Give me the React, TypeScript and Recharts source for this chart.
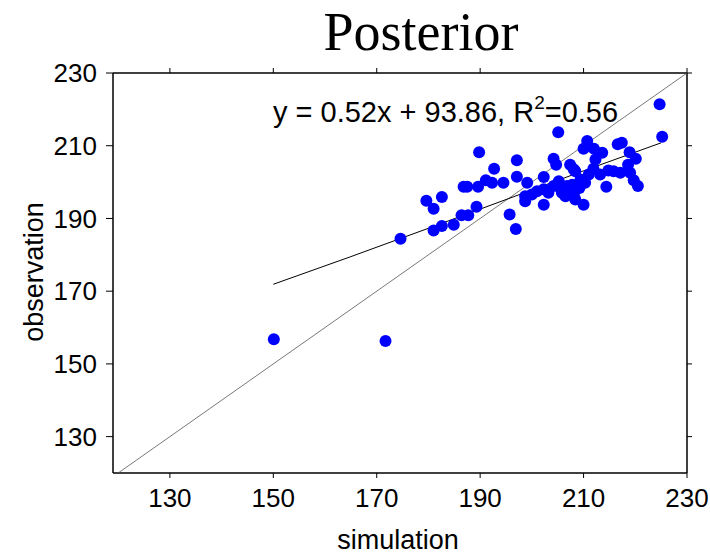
import { ComposedChart, Scatter, XAxis, YAxis } from 'recharts';

const xTicks = [130, 150, 170, 190, 210, 230];
const yTicks = [130, 150, 170, 190, 210, 230];

const points = [
  { x: 150.1, y: 156.8 }, { x: 171.7, y: 156.3 }, { x: 174.6, y: 184.4 },
  { x: 179.6, y: 194.9 }, { x: 181.0, y: 192.7 }, { x: 181.0, y: 186.7 },
  { x: 182.6, y: 195.9 }, { x: 182.6, y: 187.9 }, { x: 184.9, y: 188.3 },
  { x: 186.4, y: 190.9 }, { x: 187.7, y: 190.9 }, { x: 186.8, y: 198.7 },
  { x: 187.5, y: 198.7 }, { x: 189.3, y: 193.2 }, { x: 189.6, y: 198.7 },
  { x: 189.8, y: 208.2 }, { x: 191.1, y: 200.5 }, { x: 192.3, y: 199.8 },
  { x: 192.7, y: 203.7 }, { x: 194.5, y: 199.8 }, { x: 195.7, y: 191.1 },
  { x: 196.9, y: 187.1 }, { x: 197.1, y: 206.0 }, { x: 197.1, y: 201.5 },
  { x: 198.7, y: 196.1 }, { x: 198.7, y: 194.7 }, { x: 199.1, y: 199.8 },
  { x: 200.0, y: 196.6 }, { x: 201.0, y: 197.5 }, { x: 202.3, y: 198.0 },
  { x: 202.3, y: 193.8 }, { x: 202.3, y: 201.4 }, { x: 203.2, y: 197.1 },
  { x: 204.2, y: 198.9 }, { x: 204.2, y: 206.4 }, { x: 204.7, y: 204.8 },
  { x: 205.1, y: 213.7 }, { x: 205.2, y: 200.2 }, { x: 205.5, y: 198.4 },
  { x: 205.8, y: 197.1 }, { x: 206.5, y: 196.1 }, { x: 206.8, y: 198.9 },
  { x: 207.4, y: 204.8 }, { x: 207.8, y: 199.3 }, { x: 208.1, y: 203.5 },
  { x: 208.1, y: 196.6 }, { x: 208.4, y: 195.2 }, { x: 208.4, y: 203.0 },
  { x: 209.2, y: 198.4 }, { x: 209.4, y: 200.7 }, { x: 210.0, y: 193.8 },
  { x: 210.0, y: 209.2 }, { x: 210.3, y: 199.8 }, { x: 210.7, y: 211.3 },
  { x: 211.0, y: 202.1 }, { x: 211.9, y: 203.7 }, { x: 212.0, y: 209.2 },
  { x: 212.3, y: 206.2 }, { x: 213.2, y: 202.1 }, { x: 213.6, y: 208.1 },
  { x: 214.4, y: 198.7 }, { x: 214.8, y: 203.2 }, { x: 215.8, y: 203.0 },
  { x: 216.6, y: 210.4 }, { x: 217.1, y: 202.6 }, { x: 217.4, y: 210.8 },
  { x: 218.6, y: 204.8 }, { x: 218.9, y: 208.2 }, { x: 219.0, y: 202.6 },
  { x: 219.7, y: 200.5 }, { x: 220.1, y: 206.4 }, { x: 220.5, y: 198.9 },
  { x: 224.7, y: 221.4 }, { x: 225.2, y: 212.5 },
];

const fitLine = [
  { x: 150, y: 171.9 }, { x: 165, y: 179.5 }, { x: 180, y: 187.3 },
  { x: 195, y: 195.2 }, { x: 210, y: 203.1 }, { x: 225, y: 210.8 },
];

const oneToOne = [{ x: 119, y: 119 }, { x: 230, y: 230 }];

const FONT = '"Liberation Sans", Arial, sans-serif';
const noShape = () => <g />;
const dot = (p: any) => <circle cx={p.cx} cy={p.cy} r={6} fill="#0000ff" />;
const blankTick = () => <g />;

export default function App() {
  return (
    <div style={{ position: 'absolute', left: 0, top: 0, width: 710, height: 556, background: '#fff' }}>
      <ComposedChart width={710} height={556} margin={{ top: 72, right: 22, bottom: 53, left: 0 }}>
        <XAxis
          xAxisId="b"
          dataKey="x"
          type="number"
          domain={[119, 230]}
          ticks={xTicks}
          allowDataOverflow
          height={30}
          tickSize={5}
          tickMargin={11}
          tick={{ fontSize: 26, fill: '#000', fontFamily: FONT }}
          axisLine={{ stroke: '#000', strokeWidth: 1.5 }}
          tickLine={{ stroke: '#000' }}
        />
        <XAxis
          xAxisId="t"
          dataKey="x"
          orientation="top"
          type="number"
          domain={[119, 230]}
          ticks={xTicks}
          allowDataOverflow
          height={1}
          tickSize={5}
          tick={blankTick}
          axisLine={{ stroke: '#000', strokeWidth: 1.5 }}
          tickLine={{ stroke: '#000' }}
        />
        <YAxis
          yAxisId="l"
          dataKey="y"
          type="number"
          domain={[120, 230]}
          ticks={yTicks}
          allowDataOverflow
          width={113}
          tickSize={7}
          tickMargin={9}
          tick={{ fontSize: 26, fill: '#000', fontFamily: FONT }}
          axisLine={{ stroke: '#000', strokeWidth: 1.5 }}
          tickLine={{ stroke: '#000' }}
        />
        <YAxis
          yAxisId="r"
          dataKey="y"
          orientation="right"
          type="number"
          domain={[120, 230]}
          ticks={yTicks}
          allowDataOverflow
          width={1}
          tickSize={5}
          tick={blankTick}
          axisLine={{ stroke: '#000', strokeWidth: 1.5 }}
          tickLine={{ stroke: '#000' }}
        />
        <Scatter
          xAxisId="t"
          yAxisId="r"
          data={oneToOne}
          shape={noShape}
          isAnimationActive={false}
        />
        <Scatter
          xAxisId="b"
          yAxisId="l"
          data={oneToOne}
          line={{ stroke: '#555', strokeWidth: 0.8 }}
          shape={noShape}
          isAnimationActive={false}
        />
        <Scatter
          xAxisId="b"
          yAxisId="l"
          data={fitLine}
          line={{ stroke: '#000', strokeWidth: 1 }}
          shape={noShape}
          isAnimationActive={false}
        />
        <Scatter xAxisId="b" yAxisId="l" data={points} shape={dot} isAnimationActive={false} />
      </ComposedChart>
      <svg
        width={710}
        height={556}
        style={{ position: 'absolute', left: 0, top: 0, pointerEvents: 'none' }}
      >
        <text x={421} y={50} textAnchor="middle" fontSize={54} fontFamily='"Liberation Serif", "Times New Roman", serif'>
          Posterior
        </text>
        <text x={273} y={122} fontSize={29} fontFamily={FONT}>
          y = 0.52x + 93.86, R
          <tspan fontSize={19} dy={-13}>2</tspan>
          <tspan dy={13}>=0.56</tspan>
        </text>
        <text x={398} y={549} textAnchor="middle" fontSize={27} fontFamily={FONT}>
          simulation
        </text>
        <text x={43} y={272} textAnchor="middle" fontSize={27} fontFamily={FONT} transform="rotate(-90 43 272)">
          observation
        </text>
      </svg>
    </div>
  );
}
